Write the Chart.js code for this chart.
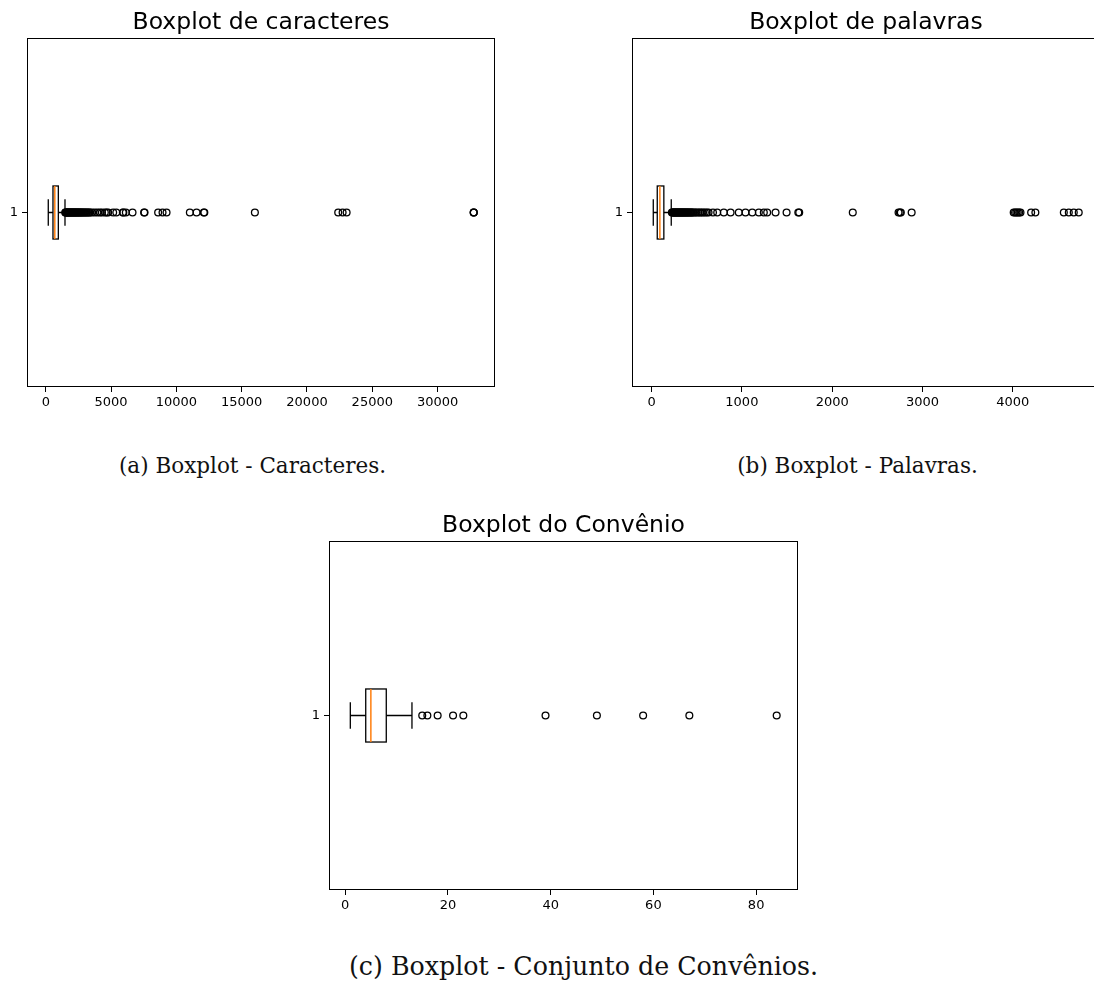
<!DOCTYPE html>
<html><head><meta charset="utf-8">
<script src="https://cdn.jsdelivr.net/npm/chart.js@4.4.0/dist/chart.umd.min.js"></script>
<style>
html,body{margin:0;padding:0;background:#fff;width:1094px;height:983px;overflow:hidden;position:relative}
canvas{position:absolute}
.cap{position:absolute;font-family:"DejaVu Serif",serif;color:#111;white-space:nowrap;transform:translate(-50%,-50%);line-height:1}
</style></head><body>
<canvas id="ca" width="520" height="425" style="left:0px;top:0px"></canvas>
<canvas id="cb" width="520" height="425" style="left:605px;top:0px"></canvas>
<canvas id="cc" width="520" height="425" style="left:302px;top:503px"></canvas>
<div class="cap" style="left:252.5px;top:466px;font-size:21.5px">(a) Boxplot - Caracteres.</div>
<div class="cap" style="left:857.5px;top:466px;font-size:21.5px">(b) Boxplot - Palavras.</div>
<div class="cap" style="left:583.5px;top:967px;font-size:25.3px">(c) Boxplot - Conjunto de Convênios.</div>
<script>
// ---- data ----
const categoryLabels = ['1'];
const titles = ['Boxplot de caracteres', 'Boxplot de palavras', 'Boxplot do Convênio'];
// [whisker low, Q1, median, Q3, whisker high]
const charStats = [190, 550, 690, 960, 1470];
const charOutliers = [1490, 1520, 1555, 1590, 1630, 1660, 1700, 1740, 1780, 1820, 1860, 1900, 1945, 1990, 2030, 2075,
  2120, 2160, 2205, 2250, 2300, 2345, 2390, 2440, 2490, 2540, 2590, 2640, 2700, 2760, 2820, 2880, 2950, 3020, 3090,
  3160, 3240, 3320, 3400, 3550, 3753, 3950, 4136, 4300, 4520, 4650, 4775, 5158, 5400, 5900, 5940, 6128, 6641,
  7530, 7560, 8602, 8939, 9246, 11030, 11543, 12100, 12140, 16010, 22390, 22727, 23034, 32767, 32767, 32767];
const charTicks = [0, 5000, 10000, 15000, 20000, 25000, 30000];

const wordStats = [19, 63, 92, 136, 218];
const wordOutliers = [225, 231, 237, 243, 249, 255, 261, 267, 273, 280, 286, 292, 299, 305, 312, 318, 325, 331, 338,
  345, 352, 359, 366, 373, 381, 388, 396, 404, 412, 420, 429, 438, 447, 456, 470, 485, 500, 518, 535, 552, 570, 590,
  610, 631, 680, 727, 800, 875, 966, 1040, 1115, 1188, 1243, 1280, 1373, 1495, 1625, 1635, 2228, 2735, 2750, 2760,
  2880, 4010, 4025, 4040, 4055, 4070, 4085, 4203, 4250, 4565, 4620, 4675, 4730];
const wordTicks = [0, 1000, 2000, 3000, 4000];

const convStats = [1, 4, 5, 8, 13];
const convOutliers = [15, 16, 18, 21, 23, 39, 49, 58, 67, 84];
const convTicks = [0, 20, 40, 60, 80];

// ---- plugins ----
const boxPlugin = {
  id: 'boxdraw',
  afterDatasetsDraw(chart, args, opts) {
    const s = opts.stats; if (!s) return;
    const x = chart.scales.x, y = chart.scales.y, ctx = chart.ctx;
    const yc = y.getPixelForValue(1);
    const half = Math.abs(y.getPixelForValue(1 + opts.halfWidth) - yc);
    const capHalf = half / 2;
    const px = v => x.getPixelForValue(v);
    ctx.save();
    ctx.lineWidth = 1.3; ctx.strokeStyle = '#000';
    ctx.beginPath();
    ctx.moveTo(px(s[0]), yc); ctx.lineTo(px(s[1]), yc);
    ctx.moveTo(px(s[3]), yc); ctx.lineTo(px(s[4]), yc);
    ctx.moveTo(px(s[0]), yc - capHalf); ctx.lineTo(px(s[0]), yc + capHalf);
    ctx.moveTo(px(s[4]), yc - capHalf); ctx.lineTo(px(s[4]), yc + capHalf);
    ctx.stroke();
    ctx.strokeRect(px(s[1]), yc - half, px(s[3]) - px(s[1]), 2 * half);
    ctx.strokeStyle = '#ff7f0e'; ctx.lineWidth = 1.5;
    ctx.beginPath(); ctx.moveTo(px(s[2]), yc - half); ctx.lineTo(px(s[2]), yc + half); ctx.stroke();
    ctx.restore();
  }
};
const framePlugin = {
  id: 'frame',
  afterDraw(chart) {
    const a = chart.chartArea, ctx = chart.ctx;
    ctx.save(); ctx.strokeStyle = '#000'; ctx.lineWidth = 1;
    const l = Math.round(a.left) + 0.5, t = Math.round(a.top) + 0.5;
    const r = Math.round(a.right) - 0.5, b = Math.round(a.bottom) - 0.5;
    ctx.strokeRect(l, t, r - l, b - t);
    ctx.restore();
  }
};

function makeChart(id, title, stats, outliers, ticks, xmin, xmax, padRight) {
  return new Chart(document.getElementById(id), {
    type: 'scatter',
    data: {
      datasets: [{
        data: outliers.map(v => ({ x: v, y: 1 })),
        pointRadius: 3.4, pointHoverRadius: 3.4, pointBorderWidth: 1.3,
        borderColor: '#000', backgroundColor: 'rgba(0,0,0,0)', pointStyle: 'circle'
      }]
    },
    options: {
      responsive: false, animation: false, devicePixelRatio: 1, events: [],
      layout: { padding: { left: 0, right: padRight, top: 0, bottom: 0 } },
      plugins: {
        legend: { display: false }, tooltip: { enabled: false },
        title: { display: true, text: title, color: '#000', fullSize: false,
          font: { family: 'DejaVu Sans', size: 23.5, weight: 'normal', lineHeight: 1.2 },
          padding: { top: 9, bottom: 0.8 } },
        boxdraw: { stats: stats, halfWidth: 0.076 }
      },
      scales: {
        x: {
          type: 'linear', min: xmin, max: xmax,
          afterBuildTicks: sc => { sc.ticks = ticks.map(v => ({ value: v })); },
          afterFit: sc => { sc.height = 38; },
          grid: { display: true, drawOnChartArea: false, drawTicks: true, tickLength: 5, color: '#000', lineWidth: 1 },
          border: { display: false },
          ticks: { color: '#000', padding: 3, maxRotation: 0, autoSkip: false,
            font: { family: 'DejaVu Sans', size: 13 }, callback: v => String(v) }
        },
        y: {
          type: 'linear', min: 0.5, max: 1.5,
          afterBuildTicks: sc => { sc.ticks = [{ value: 1 }]; },
          afterFit: sc => { sc.width = 27; },
          grid: { display: true, drawOnChartArea: false, drawTicks: true, tickLength: 5, color: '#000', lineWidth: 1 },
          border: { display: false },
          ticks: { color: '#000', padding: 4, font: { family: 'DejaVu Sans', size: 13 },
            callback: () => categoryLabels[0] }
        }
      }
    },
    plugins: [boxPlugin, framePlugin]
  });
}

makeChart('ca', titles[0], charStats, charOutliers, charTicks, -1439, 34396, 25);
makeChart('cb', titles[1], wordStats, wordOutliers, wordTicks, -216.6, 4965.6, 25);
makeChart('cc', titles[2], convStats, convOutliers, convTicks, -3.15, 88.15, 24);
</script>
</body></html>
